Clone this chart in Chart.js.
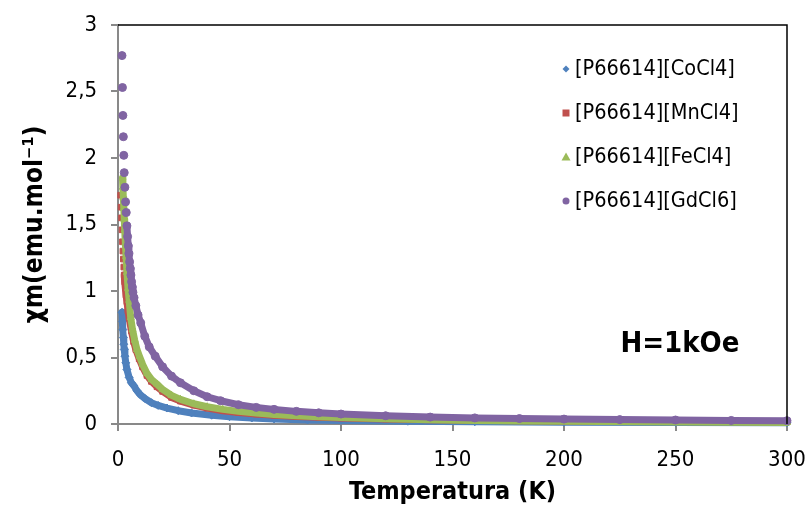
<!DOCTYPE html>
<html>
<head>
<meta charset="utf-8">
<script src="https://cdn.jsdelivr.net/npm/chart.js@4.4.0/dist/chart.umd.min.js"></script>
<style>
  html, body { margin: 0; padding: 0; background: #fff; }
  #chi_chart { display: block; }
</style>
</head>
<body>
<canvas id="chi_chart" width="810" height="520"></canvas>
<script>
// valeurs (T en K, chi en emu/mol)
const seriesNames = ["[P66614][CoCl4]", "[P66614][MnCl4]", "[P66614][FeCl4]", "[P66614][GdCl6]"];

const tempCo = [1.8, 2.0, 2.2, 2.4, 2.6, 2.8, 3.1, 3.5, 4, 5, 6, 7, 8.5, 10, 12.2, 15, 18, 22, 27, 33, 42, 50, 60, 70, 85, 100, 130, 160, 200, 250, 300];
const chiCo  = [0.84, 0.77, 0.71, 0.65, 0.60, 0.56, 0.51, 0.46, 0.41, 0.35, 0.31, 0.29, 0.25, 0.22, 0.19, 0.16, 0.14, 0.12, 0.10, 0.083, 0.066, 0.055, 0.045, 0.038, 0.031, 0.027, 0.021, 0.017, 0.014, 0.011, 0.009];

const tempMn = [1.2, 1.4, 1.6, 1.8, 2.0, 2.2, 2.4, 2.6, 2.8, 3.0, 3.3, 3.6, 4.0, 4.5, 5, 6, 7, 8, 9.5, 11, 13, 15, 17.5, 20, 24, 28, 34, 40, 47, 54, 62, 70, 80, 90, 100, 120, 140, 160, 180, 200, 250, 300];
const chiMn  = [1.72, 1.63, 1.55, 1.46, 1.37, 1.30, 1.24, 1.18, 1.12, 1.07, 1.02, 0.97, 0.92, 0.85, 0.80, 0.70, 0.62, 0.56, 0.49, 0.43, 0.365, 0.32, 0.28, 0.245, 0.20, 0.172, 0.142, 0.12, 0.10, 0.087, 0.075, 0.066, 0.057, 0.051, 0.046, 0.038, 0.032, 0.028, 0.025, 0.023, 0.019, 0.017];

const tempFe = [2.0, 2.2, 2.4, 2.6, 2.8, 3.0, 3.3, 3.6, 4.0, 4.5, 5, 5.7, 6.5, 7.5, 8.5, 9.6, 11, 13, 15, 17.5, 20, 24, 28, 34, 40, 47, 54, 62, 70, 80, 90, 100, 120, 140, 160, 180, 200, 250, 300];
const chiFe  = [1.85, 1.78, 1.70, 1.62, 1.54, 1.46, 1.36, 1.26, 1.14, 1.02, 0.93, 0.80, 0.71, 0.63, 0.56, 0.51, 0.45, 0.38, 0.335, 0.30, 0.26, 0.215, 0.185, 0.152, 0.13, 0.11, 0.095, 0.082, 0.072, 0.062, 0.055, 0.048, 0.039, 0.032, 0.027, 0.023, 0.020, 0.015, 0.011];

const tempGd = [1.8, 2.0, 2.2, 2.4, 2.6, 2.8, 3.1, 3.4, 3.7, 4.0, 4.3, 4.6, 4.9, 5.2, 5.5, 5.8, 6.1, 6.4, 6.7, 7.2, 8, 9, 10.2, 12, 14, 16.7, 20, 24, 28, 34, 40, 46, 54, 62, 70, 80, 90, 100, 120, 140, 160, 180, 200, 225, 250, 275, 300];
const chiGd  = [2.77, 2.53, 2.32, 2.16, 2.02, 1.89, 1.78, 1.67, 1.59, 1.49, 1.41, 1.34, 1.28, 1.22, 1.17, 1.12, 1.07, 1.03, 0.99, 0.95, 0.89, 0.82, 0.76, 0.66, 0.58, 0.51, 0.43, 0.36, 0.31, 0.25, 0.205, 0.175, 0.145, 0.125, 0.11, 0.095, 0.084, 0.075, 0.062, 0.052, 0.046, 0.041, 0.037, 0.033, 0.030, 0.027, 0.025];

const xTickValues = [0, 50, 100, 150, 200, 250, 300];
const yTickLabels = ["0", "0,5", "1", "1,5", "2", "2,5", "3"];
const fieldLabel = "H=1kOe";

const FONT = '"DejaVu Sans Condensed", "DejaVu Sans", sans-serif';
const colors = ["#4F81BD", "#C0504D", "#9BBB59", "#8064A2"];
const styles = ["rectRot", "rect", "triangle", "circle"];
// nombre de points isoles en haut de courbe (pas de trait entre eux)
const isolated = [0, 8, 0, 9];

function toPoints(t, c) {
  return t.map((v, i) => ({ x: v, y: c[i] }));
}
const allData = [toPoints(tempCo, chiCo), toPoints(tempMn, chiMn), toPoints(tempFe, chiFe), toPoints(tempGd, chiGd)];

const datasets = allData.map((d, k) => ({
  label: seriesNames[k],
  data: d,
  order: 4 - k,
  showLine: true,
  borderColor: colors[k],
  borderWidth: 7,
  borderJoinStyle: "round",
  borderCapStyle: "round",
  tension: 0,
  pointStyle: styles[k],
  pointRadius: 4,
  pointBorderWidth: 1,
  pointBackgroundColor: colors[k],
  pointBorderColor: colors[k],
  clip: false,
  segment: {
    borderColor: (s) => (s.p0DataIndex < isolated[k] ? "rgba(0,0,0,0)" : colors[k]),
  },
}));

// cadre haut/droite, legende et annotation du champ
const extras = {
  id: "extras",
  afterDatasetsDraw(chart) {
    const { ctx, chartArea: a, scales } = chart;
    ctx.save();
    ctx.strokeStyle = "#000";
    ctx.lineWidth = 1.5;
    ctx.beginPath();
    ctx.moveTo(a.left, a.top);
    ctx.lineTo(a.right, a.top);
    ctx.lineTo(a.right, a.bottom);
    ctx.stroke();

    // legende
    ctx.font = "21.5px " + FONT;
    ctx.textBaseline = "middle";
    ctx.textAlign = "left";
    for (let k = 0; k < seriesNames.length; k++) {
      const y = a.top + 44 + k * 44;
      const x = a.right - 221;
      ctx.fillStyle = colors[k];
      drawMarker(ctx, styles[k], x, y, 3.5);
      ctx.fillStyle = "#000";
      ctx.fillText(seriesNames[k], x + 9, y);
    }

    ctx.font = "bold 29px " + FONT;
    ctx.textAlign = "center";
    ctx.fillText(fieldLabel, scales.x.getPixelForValue(252), scales.y.getPixelForValue(0.6));
    ctx.restore();
  },
};

function drawMarker(ctx, style, x, y, r) {
  ctx.beginPath();
  if (style === "rectRot") {
    ctx.moveTo(x, y - r); ctx.lineTo(x + r, y); ctx.lineTo(x, y + r); ctx.lineTo(x - r, y);
  } else if (style === "rect") {
    ctx.rect(x - r, y - r, 2 * r, 2 * r);
  } else if (style === "triangle") {
    ctx.moveTo(x, y - r - 1); ctx.lineTo(x + r + 1, y + r); ctx.lineTo(x - r - 1, y + r);
  } else {
    ctx.arc(x, y, r, 0, Math.PI * 2);
  }
  ctx.closePath();
  ctx.fill();
}

document.addEventListener("DOMContentLoaded", () => {
  const ctx = document.getElementById("chi_chart").getContext("2d");
  new Chart(ctx, {
    type: "scatter",
    data: { datasets: datasets },
    options: {
      responsive: false,
      maintainAspectRatio: false,
      animation: false,
      devicePixelRatio: 1,
      layout: { padding: { top: 25, right: 23, left: 0, bottom: 0 } },
      plugins: { legend: { display: false }, tooltip: { enabled: false } },
      scales: {
        x: {
          type: "linear",
          min: 0,
          max: 300,
          afterBuildTicks: (s) => { s.ticks = xTickValues.map((v) => ({ value: v })); },
          afterFit: (s) => { s.height = 96; s.paddingRight = 0; s.paddingLeft = 0; },
          grid: { drawOnChartArea: false, color: "#898989", lineWidth: 2, tickLength: 7 },
          border: { color: "#898989", width: 2 },
          ticks: { color: "#000", font: { family: FONT, size: 22 }, padding: 16, maxRotation: 0 },
          title: {
            display: true,
            text: "Temperatura (K)",
            color: "#000",
            font: { family: FONT, size: 25, weight: "bold" },
            padding: { top: 0, bottom: 13 },
          },
        },
        y: {
          type: "linear",
          min: 0,
          max: 3,
          ticks: {
            stepSize: 0.5,
            color: "#000",
            font: { family: FONT, size: 22 },
            padding: 14,
            callback: (v, i) => yTickLabels[i],
          },
          afterFit: (s) => { s.width = 118; s.paddingTop = 0; s.paddingBottom = 0; },
          grid: { drawOnChartArea: false, color: "#898989", lineWidth: 2, tickLength: 7 },
          border: { color: "#898989", width: 2 },
          title: {
            display: true,
            text: "χm(emu.mol⁻¹)",
            color: "#000",
            font: { family: FONT, size: 26, weight: "bold" },
            padding: { top: 20, bottom: 0 },
          },
        },
      },
    },
    plugins: [extras],
  });
});
</script>
</body>
</html>
